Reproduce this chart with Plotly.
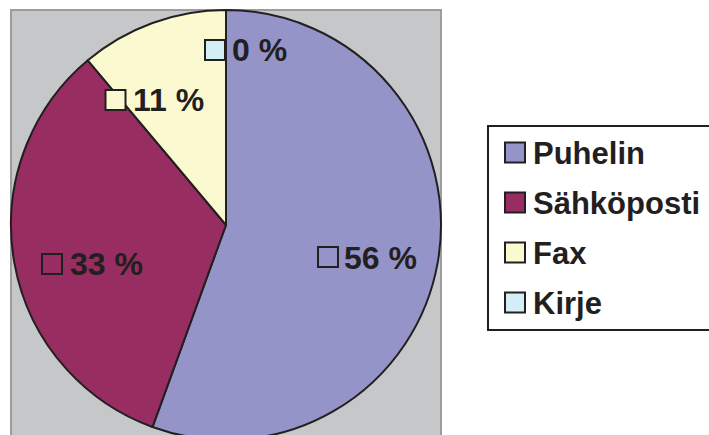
import plotly.graph_objects as go

# Contact channels and number of responses per channel
categories = ["Puhelin", "Sähköposti", "Fax", "Kirje"]
counts = [5, 3, 1, 0]
slice_colors = ["#9494c9", "#982d62", "#fbf9d0", "#d3eef4"]

W, H = 709, 445
INK = "#231f20"
FONT = "Liberation Sans, Arial, sans-serif"


def px(x):
    return x / W


def py(y):
    return 1 - y / H


total = sum(counts)
pct_text = [f"{round(v / total * 100)} %" for v in counts]

fig = go.Figure(
    go.Pie(
        labels=categories,
        values=counts,
        sort=False,
        direction="clockwise",
        rotation=0,
        marker=dict(colors=slice_colors, line=dict(color=INK, width=2)),
        textinfo="none",
        hoverinfo="label+percent",
        showlegend=False,
        domain=dict(x=[px(11), px(441)], y=[py(440), py(10)]),
    )
)

shapes = []
annotations = []

# grey plot area behind the pie
shapes.append(dict(type="rect", xref="paper", yref="paper", layer="below",
                   x0=px(11), x1=px(441), y0=-0.1, y1=py(10),
                   fillcolor="#c6c7c9", line=dict(color="#9d9d9f", width=2)))

# data labels: small key square + percentage (square centre, text left edge, text centre y)
label_pos = [(328, 257, 345, 258), (52, 264, 71, 264), (115.5, 100, 134, 100), (215, 50, 233, 50)]
for (sx, sy, tx, ty), col, txt in zip(label_pos, slice_colors, pct_text):
    shapes.append(dict(type="rect", xref="paper", yref="paper",
                       x0=px(sx - 10), x1=px(sx + 10), y0=py(sy + 10), y1=py(sy - 10),
                       fillcolor=col, line=dict(color=INK, width=2)))
    annotations.append(dict(xref="paper", yref="paper", x=px(tx - 3), y=py(ty),
                            xanchor="left", yanchor="middle", showarrow=False, text=f"<b>{txt}</b>",
                            font=dict(family=FONT, size=32, color=INK)))

# legend box
shapes.append(dict(type="rect", xref="paper", yref="paper",
                   x0=px(488), x1=px(730), y0=py(330), y1=py(126),
                   fillcolor="white", line=dict(color=INK, width=2)))
for i, (name, col) in enumerate(zip(categories, slice_colors)):
    cy = 152.5 + 50 * i
    shapes.append(dict(type="rect", xref="paper", yref="paper",
                       x0=px(505), x1=px(525), y0=py(cy + 10), y1=py(cy - 10),
                       fillcolor=col, line=dict(color=INK, width=2)))
    annotations.append(dict(xref="paper", yref="paper", x=px(531), y=py(cy + 1),
                            xanchor="left", yanchor="middle", showarrow=False, text=f"<b>{name}</b>",
                            font=dict(family=FONT, size=31, color=INK)))

fig.update_layout(
    width=W, height=H,
    margin=dict(l=0, r=0, t=0, b=0),
    paper_bgcolor="white",
    shapes=shapes,
    annotations=annotations,
)

fig.write_html(
    "out.html",
    config={"displayModeBar": False},
    post_script="document.documentElement.style.overflow='hidden';"
                "document.body.style.overflow='hidden';document.body.style.margin='0';",
)
